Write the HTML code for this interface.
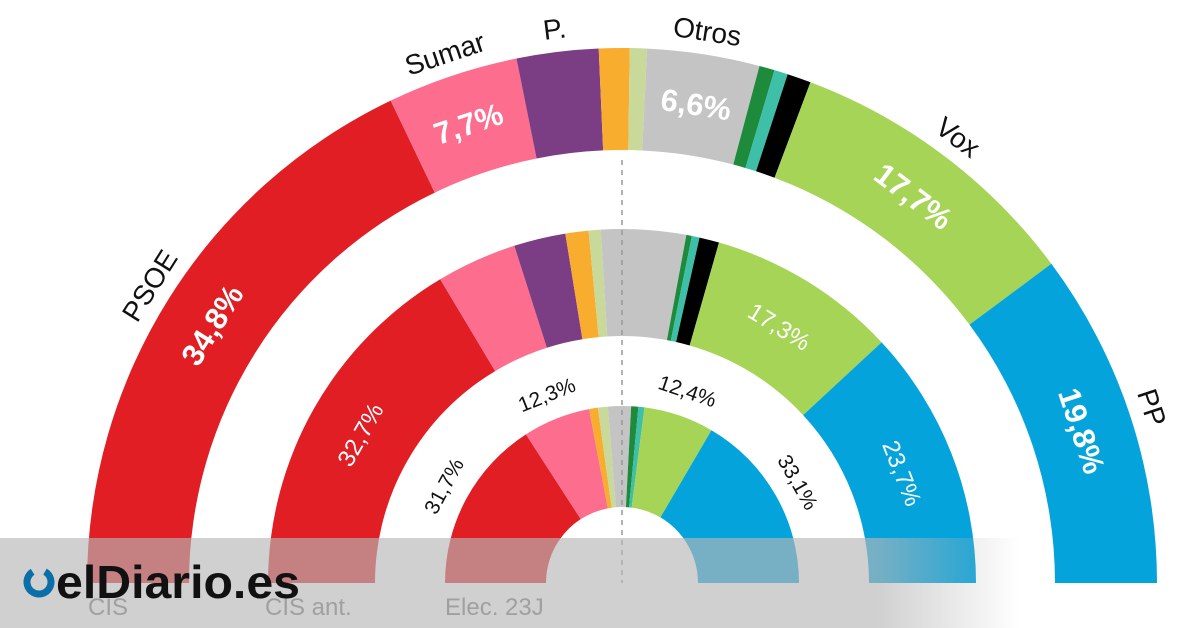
<!DOCTYPE html>
<html><head><meta charset="utf-8">
<style>
html,body{margin:0;padding:0;background:#fff;}
svg{display:block;font-family:"Liberation Sans",sans-serif;}
</style></head>
<body>
<svg id="chart" width="1200" height="628" viewBox="0 0 1200 628" xmlns="http://www.w3.org/2000/svg">
<defs>
<linearGradient id="fade" x1="0" x2="1" y1="0" y2="0">
<stop offset="0" stop-color="rgb(182,182,182)" stop-opacity="0.645"/>
<stop offset="0.86" stop-color="rgb(182,182,182)" stop-opacity="0.645"/>
<stop offset="1" stop-color="rgb(182,182,182)" stop-opacity="0"/>
</linearGradient>
</defs>
<g id="rings"></g>
<line x1="622" y1="160" x2="622" y2="583" stroke="#999" stroke-width="1.5" stroke-dasharray="5,5"/>
<g id="labels"></g>
<text x="88" y="615" font-size="24" fill="#777">CIS</text>
<text x="265" y="615" font-size="24" fill="#777">CIS ant.</text>
<text x="445" y="615" font-size="24" fill="#777">Elec. 23J</text>
<rect x="0" y="538" width="1020" height="90" fill="url(#fade)"/>
<g>
<circle cx="39" cy="582" r="12" fill="none" stroke="#0a6fa8" stroke-width="7" stroke-dasharray="62,14" transform="rotate(-60 39 582)"/>
<text x="56" y="598" font-size="46" font-weight="bold" fill="#111" textLength="244" lengthAdjust="spacingAndGlyphs">elDiario.es</text>
</g>
</svg>
<script>
const parties = ['PSOE','Sumar','Podemos','CC','BNG','Otros','EHBildu','PNV','Junts','Vox','PP'];
const colors = ['#e01e24','#fd6d8e','#7b3d83','#f9ad2f','#c8d99a','#c4c4c4','#1d8a3c','#3dbfa8','#000000','#a6d456','#05a3dc'];
const cisValues = [34.8,7.7,4.8,1.8,1.0,6.6,0.9,0.8,1.4,17.7,19.8];
const cisAntValues = [32.7,7.3,4.7,2.1,1.1,7.7,0.5,0.7,1.8,17.3,23.7];
const elecValues = [31.7,12.3,0,1.6,1.8,4.2,1.3,1.1,0,12.8,33.1];
const cisLabels = ['34,8%','7,7%','','','','6,6%','','','','17,7%','19,8%'];
const cisAntLabels = ['32,7%','','','','','','','','','17,3%','23,7%'];
const elecLabels = ['31,7%','12,3%','','','','','','','','12,4%','33,1%'];
const nameLabels = ['PSOE','Sumar','P.','','','Otros','','','','Vox','PP'];

const cx=622, cy=583;
const NS='http://www.w3.org/2000/svg';
const ringsG=document.getElementById('rings');
const labelsG=document.getElementById('labels');
function pt(r,a){return [cx - r*Math.cos(a), cy - r*Math.sin(a)];}
function arcPath(r0,r1,a0,a1){
  const p1=pt(r1,a0),p2=pt(r1,a1),p3=pt(r0,a1),p4=pt(r0,a0);
  const large=(a1-a0)>Math.PI?1:0;
  return `M${p1[0]},${p1[1]} A${r1},${r1} 0 ${large} 1 ${p2[0]},${p2[1]} L${p3[0]},${p3[1]} A${r0},${r0} 0 ${large} 0 ${p4[0]},${p4[1]} Z`;
}
function addText(x,y,rot,txt,size,weight,fill,name){
  const t=document.createElementNS(NS,'text');
  t.setAttribute('x',x);t.setAttribute('y',y);
  t.setAttribute('transform',`rotate(${rot} ${x} ${y})`);
  t.setAttribute('text-anchor','middle');
  t.setAttribute('dominant-baseline','central');
  t.setAttribute('font-size',size);t.setAttribute('font-weight',weight);t.setAttribute('fill',fill);
  
  
  t.textContent=txt;labelsG.appendChild(t);
}
function ring(values,labels,r0,r1,lr,size,weight,fill,ringName){
  const total=values.reduce((a,b)=>a+b,0);
  let cum=0;
  values.forEach((v,i)=>{
    const a0=cum/total*Math.PI; cum+=v; const a1=cum/total*Math.PI;
    if(v>0){
      const p=document.createElementNS(NS,'path');
      p.setAttribute('d',arcPath(r0,r1,a0,a1));
      p.setAttribute('fill',colors[i]);
      
      
      ringsG.appendChild(p);
    }
    const am=(a0+a1)/2;
    if(labels[i]){
      const q=pt(lr,am);
      addText(q[0],q[1],am*180/Math.PI-90,labels[i],size,weight,fill,ringName+'-value-'+parties[i].toLowerCase());
    }
    if(ringName==='cis' && nameLabels[i]){
      const q=pt(558,am);
      addText(q[0],q[1],am*180/Math.PI-90,nameLabels[i],28,'normal','#111','party-name-'+parties[i].toLowerCase());
    }
  });
}
ring(cisValues,cisLabels,433,535,484,31,'bold','#fff','cis');
ring(cisAntValues,cisAntLabels,247,354,300,24,'normal','#fff','cis-ant');
ring(elecValues,elecLabels,76,177,202,21,'normal','#111','elec');
</script>
</body></html>
